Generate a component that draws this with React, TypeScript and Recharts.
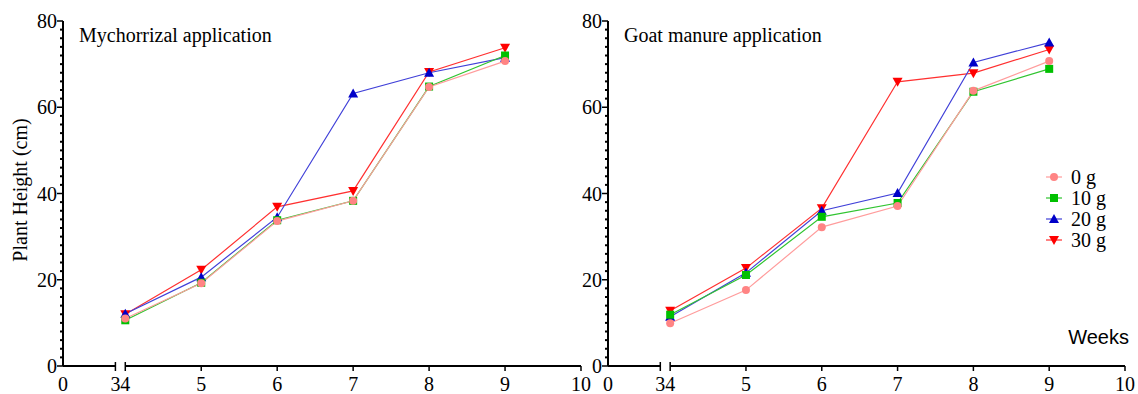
import React from "react";
import { LineChart, Line, XAxis, YAxis, ReferenceLine } from "recharts";

const weeks = [4, 5, 6, 7, 8, 9];
const treatments = ["0 g", "10 g", "20 g", "30 g"];

// Mychorrizal application
const myc0 = [11.0, 19.2, 33.6, 38.3, 64.7, 70.7];
const myc10 = [10.6, 19.3, 33.8, 38.3, 64.8, 72.0];
const myc20 = [12.1, 20.6, 34.5, 63.2, 68.0, 71.5];
const myc30 = [12.0, 22.3, 36.9, 40.6, 68.2, 73.8];

// Goat manure application
const goat0 = [9.9, 17.6, 32.2, 37.1, 63.8, 70.7];
const goat10 = [11.9, 21.1, 34.6, 37.8, 63.6, 68.9];
const goat20 = [11.4, 21.6, 36.0, 40.1, 70.4, 75.0];
const goat30 = [12.8, 22.7, 36.6, 65.9, 67.9, 73.4];

// broken x axis: "0" and "3" sit on a compressed stretch before week 4
const AXIS_ZERO = 3.18;
const AXIS_THREE = 3.87;
const xTicks = [AXIS_ZERO, AXIS_THREE, 4, 5, 6, 7, 8, 9, 10];
const yTicks = Array.from({ length: 41 }, (_, i) => i * 2);

const SERIF = '"Liberation Serif", "Times New Roman", serif';
const SANS = '"Liberation Sans", Arial, sans-serif';

const seriesStyle = [
  { key: "g0", line: "#FF9C9C", fill: "#FF8484", shape: "circle" },
  { key: "g10", line: "#30C430", fill: "#00C000", shape: "square" },
  { key: "g20", line: "#4040D8", fill: "#0000C8", shape: "up" },
  { key: "g30", line: "#FF3030", fill: "#FF0000", shape: "down" },
];

const buildRows = (s0: number[], s10: number[], s20: number[], s30: number[]) =>
  weeks.map((week, i) => ({ week, g0: s0[i], g10: s10[i], g20: s20[i], g30: s30[i] }));

const mycData = buildRows(myc0, myc10, myc20, myc30);
const goatData = buildRows(goat0, goat10, goat20, goat30);

const Marker = ({ cx, cy, shape, fill }: any) => {
  if (shape === "circle") return <circle cx={cx} cy={cy} r={4} fill={fill} />;
  if (shape === "square") return <rect x={cx - 4} y={cy - 4} width={8} height={8} fill={fill} />;
  if (shape === "up")
    return <polygon points={`${cx},${cy - 5} ${cx - 5},${cy + 4} ${cx + 5},${cy + 4}`} fill={fill} />;
  return <polygon points={`${cx},${cy + 5} ${cx - 5},${cy - 4} ${cx + 5},${cy - 4}`} fill={fill} />;
};

const YTick = ({ x, y, payload }: any) => {
  const major = payload.value % 20 === 0;
  return (
    <g>
      <line x1={x - (major ? 6 : 3)} x2={x} y1={y} y2={y} stroke="#000" strokeWidth={major ? 1.5 : 2} />
      {major && (
        <text x={x - 6} y={y} dy="0.35em" textAnchor="end" fontFamily={SERIF} fontSize={20} fill="#000">
          {payload.value}
        </text>
      )}
    </g>
  );
};

const XTick = ({ x, y, payload }: any) => {
  const v = payload.value;
  const label = v === AXIS_ZERO ? "0" : v === AXIS_THREE ? "3" : String(v);
  const atBreak = v === AXIS_THREE || v === 4;
  return (
    <g>
      {v !== AXIS_ZERO && (
        <line x1={x} x2={x} y1={atBreak ? y - 4 : y} y2={y + 5} stroke="#000" strokeWidth={1.5} />
      )}
      <text x={x} y={y + 25} textAnchor="middle" fontFamily={SERIF} fontSize={20} fill="#000">
        {label}
      </text>
    </g>
  );
};

const Panel = ({ data, width, right }: { data: any[]; width: number; right: number }) => (
  <LineChart width={width} height={394} data={data} margin={{ top: 21, right, bottom: 0, left: 0 }}>
    <XAxis
      dataKey="week"
      type="number"
      domain={[AXIS_ZERO, 10]}
      ticks={xTicks}
      interval={0}
      height={28}
      axisLine={false}
      tickLine={false}
      tickSize={0}
      tickMargin={0}
      tick={<XTick />}
    />
    <YAxis
      type="number"
      domain={[0, 80]}
      ticks={yTicks}
      interval={0}
      width={63}
      axisLine={{ stroke: "#000", strokeWidth: 2 }}
      tickLine={false}
      tickSize={0}
      tickMargin={0}
      tick={<YTick />}
    />
    <ReferenceLine
      segment={[{ x: AXIS_ZERO, y: 0 }, { x: AXIS_THREE, y: 0 }]}
      stroke="#000"
      strokeWidth={2}
      ifOverflow="visible"
    />
    <ReferenceLine
      segment={[{ x: 4, y: 0 }, { x: 10, y: 0 }]}
      stroke="#000"
      strokeWidth={2}
      ifOverflow="visible"
    />
    {[...seriesStyle].reverse().map((s) => (
      <Line
        key={s.key}
        dataKey={s.key}
        type="linear"
        stroke={s.line}
        strokeWidth={1.2}
        isAnimationActive={false}
        dot={(p: any) => <Marker key={`${s.key}-${p.index}`} cx={p.cx} cy={p.cy} shape={s.shape} fill={s.fill} />}
        activeDot={false}
      />
    ))}
  </LineChart>
);

export default function App() {
  return (
    <div style={{ position: "absolute", left: 0, top: 0, width: 1138, height: 394, background: "#fff", overflow: "hidden" }}>
      <div style={{ position: "absolute", left: 0, top: 0 }}>
        <Panel data={mycData} width={600} right={19} />
      </div>
      <div style={{ position: "absolute", left: 545, top: 0 }}>
        <Panel data={goatData} width={593} right={13} />
      </div>
      <svg width={1138} height={394} style={{ position: "absolute", left: 0, top: 0, pointerEvents: "none" }}>
        <text x={79} y={42} fontFamily={SERIF} fontSize={20} fill="#000">
          Mychorrizal application
        </text>
        <text x={624} y={42} fontFamily={SERIF} fontSize={20} fill="#000">
          Goat manure application
        </text>
        <text
          transform="translate(27,190) rotate(-90)"
          textAnchor="middle"
          fontFamily={SERIF}
          fontSize={20}
          fill="#000"
        >
          Plant Height (cm)
        </text>
        <text x={1129} y={344} textAnchor="end" fontFamily={SANS} fontSize={20} fill="#000">
          Weeks
        </text>
        {treatments.map((t, i) => {
          const s = seriesStyle[i];
          const cy = 177 + i * 21;
          return (
            <g key={t}>
              <line x1={1046} x2={1062} y1={cy} y2={cy} stroke={s.line} strokeWidth={1.2} />
              <Marker cx={1054} cy={cy} shape={s.shape} fill={s.fill} />
              <text x={1071} y={cy} dy="0.35em" fontFamily={SERIF} fontSize={20} fill="#000">
                {t}
              </text>
            </g>
          );
        })}
      </svg>
    </div>
  );
}
